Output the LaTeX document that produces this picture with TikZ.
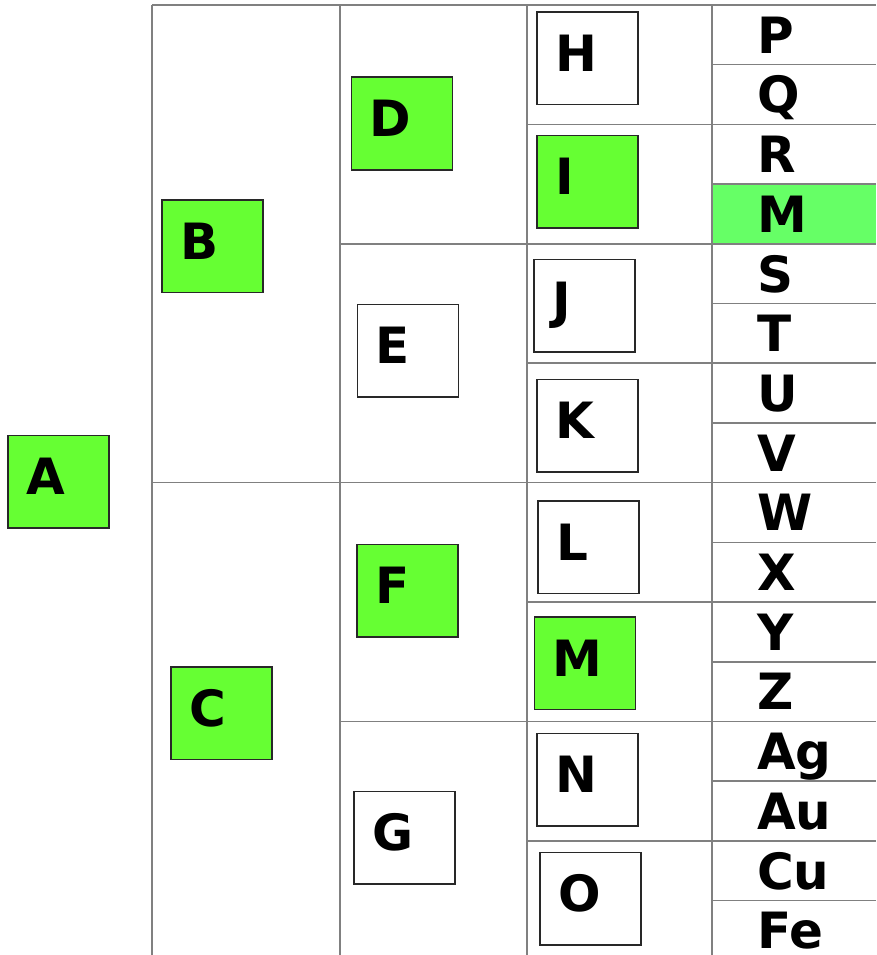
\documentclass[tikz,border=0pt]{standalone}
\usepackage{fontspec}
\setmainfont{DejaVu Sans}
\definecolor{boxgreen}{RGB}{102,255,51}
\definecolor{cellgreen}{RGB}{102,255,102}
\definecolor{gridgray}{RGB}{128,128,128}
\definecolor{boxborder}{RGB}{40,40,40}
\begin{document}
\begin{tikzpicture}[x=1pt,y=-1pt,
  letterfont/.style={font=\fontsize{50}{60}\selectfont\bfseries},
  treebox/.style={rectangle, draw=boxborder, line width=1.5pt, minimum width=101pt, minimum height=92.5pt,
    inner xsep=18pt, inner ysep=0pt, text width=65pt, align=left, text height=37pt, text depth=11pt, letterfont},
  gbox/.style={treebox, fill=boxgreen},
  wbox/.style={treebox, fill=white},
  leaf/.style={anchor=base west, inner sep=0pt, letterfont},
  grid/.style={draw=gridgray, line width=1.6pt}]
\useasboundingbox (0,0) rectangle (876,955);
\fill[white] (0,0) rectangle (876,955);
% highlighted cell
\fill[cellgreen] (712,184.1) rectangle (876,243.8);
% grid lines
\draw[grid] (152,5) -- (876,5);
\foreach \x in {152,340,527,712} \draw[grid] (\x,5) -- (\x,955);
\draw[grid] (152,482.6) -- (876,482.6);
\foreach \y in {243.8,721.4} \draw[grid] (340,\y) -- (876,\y);
\foreach \y in {124.4,363.2,602,840.8} \draw[grid] (527,\y) -- (876,\y);
\foreach \y in {64.7,184.1,303.5,422.9,542.3,661.7,781.1,900.5} \draw[grid] (712,\y) -- (876,\y);
% tree boxes
\node[gbox] (A) at (58.5,481.5) {A};
\node[gbox] (B) at (212.5,246) {B};
\node[gbox] (C) at (221.5,713) {C};
\node[gbox] (D) at (402,123.5) {D};
\node[wbox] (E) at (408,350.5) {E};
\node[gbox] (F) at (407.5,590.5) {F};
\node[wbox] (G) at (404.5,837.5) {G};
\node[wbox] (H) at (587.5,58.5) {H};
\node[gbox] (I) at (587.5,181.5) {I};
\node[wbox] (J) at (584.5,305.5) {J};
\node[wbox] (K) at (587.5,425.5) {K};
\node[wbox] (L) at (588.5,547) {L};
\node[gbox] (M) at (585,663) {M};
\node[wbox] (N) at (587.5,779.5) {N};
\node[wbox] (O) at (590.5,898.5) {O};
% leaf labels
\foreach \t [count=\k] in {P,Q,R,M,S,T,U,V,W,X,Y,Z,Ag,Au,Cu,Fe}
  \node[leaf] (leaf\k) at (757,{5+59.7*\k-11.5}) {\t};
\end{tikzpicture}
\end{document}
